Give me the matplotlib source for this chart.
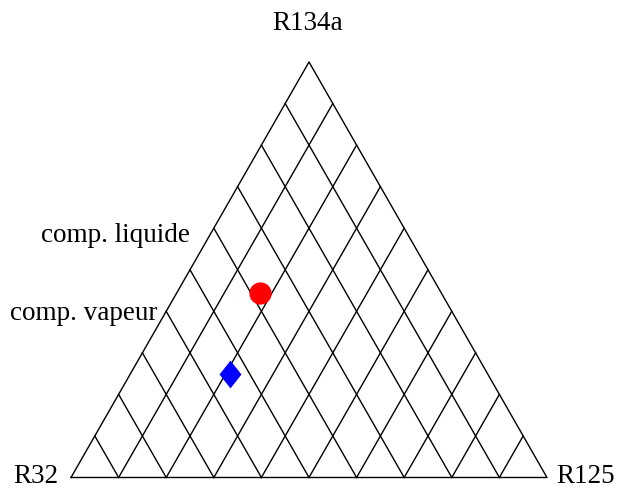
import numpy as np
import matplotlib
matplotlib.use('Agg')
import matplotlib.pyplot as plt
from matplotlib.path import Path

plt.rcParams['font.family'] = ['Liberation Serif', 'DejaVu Serif']

# Components at the triangle corners
corner_labels = ['R32', 'R125', 'R134a']
n_div = 10

# Mole fractions (R32, R125, R134a)
liquid_comp = [0.38, 0.175, 0.445]
vapour_comp = [0.54, 0.21, 0.25]

side_labels = ['comp. liquide', 'comp. vapeur']


def to_xy(a, b, c):
    """Ternary (R32, R125, R134a) -> cartesian, R32 at (0,0), R125 at (1,0)."""
    return b + 0.5 * c, np.sqrt(3) / 2 * c


W, H = 617, 488
fig = plt.figure(figsize=(W / 100, H / 100), dpi=100)
ax = fig.add_axes([0, 0, 1, 1])
ax.set_xlim(-0.1492, 1.1471)
ax.set_ylim(-0.0219, 0.9952)
ax.axis('off')


def fig_px(x, y):
    """Pixel position (from top-left) -> axes fraction."""
    return x / W, 1 - y / H


lw = 1.0
# outer triangle
tri = [to_xy(1, 0, 0), to_xy(0, 1, 0), to_xy(0, 0, 1), to_xy(1, 0, 0)]
ax.plot([p[0] for p in tri], [p[1] for p in tri], color='black', lw=lw)

# grid lines parallel to the two inclined sides
for i in range(1, n_div):
    f = i / n_div
    # constant R32 fraction
    x0, y0 = to_xy(f, 1 - f, 0)
    x1, y1 = to_xy(f, 0, 1 - f)
    ax.plot([x0, x1], [y0, y1], color='black', lw=lw)
    # constant R125 fraction
    x0, y0 = to_xy(1 - f, f, 0)
    x1, y1 = to_xy(0, f, 1 - f)
    ax.plot([x0, x1], [y0, y1], color='black', lw=lw)

# measured compositions
xl, yl = to_xy(*liquid_comp)
ax.plot(xl, yl, 'o', color='red', markersize=16, markeredgewidth=0)
diamond = Path([(0, 1), (0.79, 0), (0, -1), (-0.79, 0), (0, 1)],
               [Path.MOVETO, Path.LINETO, Path.LINETO, Path.LINETO, Path.CLOSEPOLY])
xv, yv = to_xy(*vapour_comp)
ax.plot(xv, yv, marker=diamond, color='blue', markersize=20, markeredgewidth=0,
        linestyle='none')

fs = 19.5
ax.text(*fig_px(308, 29.5), corner_labels[2], ha='center', va='baseline',
        fontsize=fs, transform=ax.transAxes)
ax.text(*fig_px(36, 483), corner_labels[0], ha='center', va='baseline',
        fontsize=fs, transform=ax.transAxes)
ax.text(*fig_px(586, 483), corner_labels[1], ha='center', va='baseline',
        fontsize=fs, transform=ax.transAxes)
ax.text(*fig_px(190, 242), side_labels[0], ha='right', va='baseline',
        fontsize=fs, transform=ax.transAxes)
ax.text(*fig_px(157, 320), side_labels[1], ha='right', va='baseline',
        fontsize=fs, transform=ax.transAxes)

fig.savefig('out.png', dpi=100)
